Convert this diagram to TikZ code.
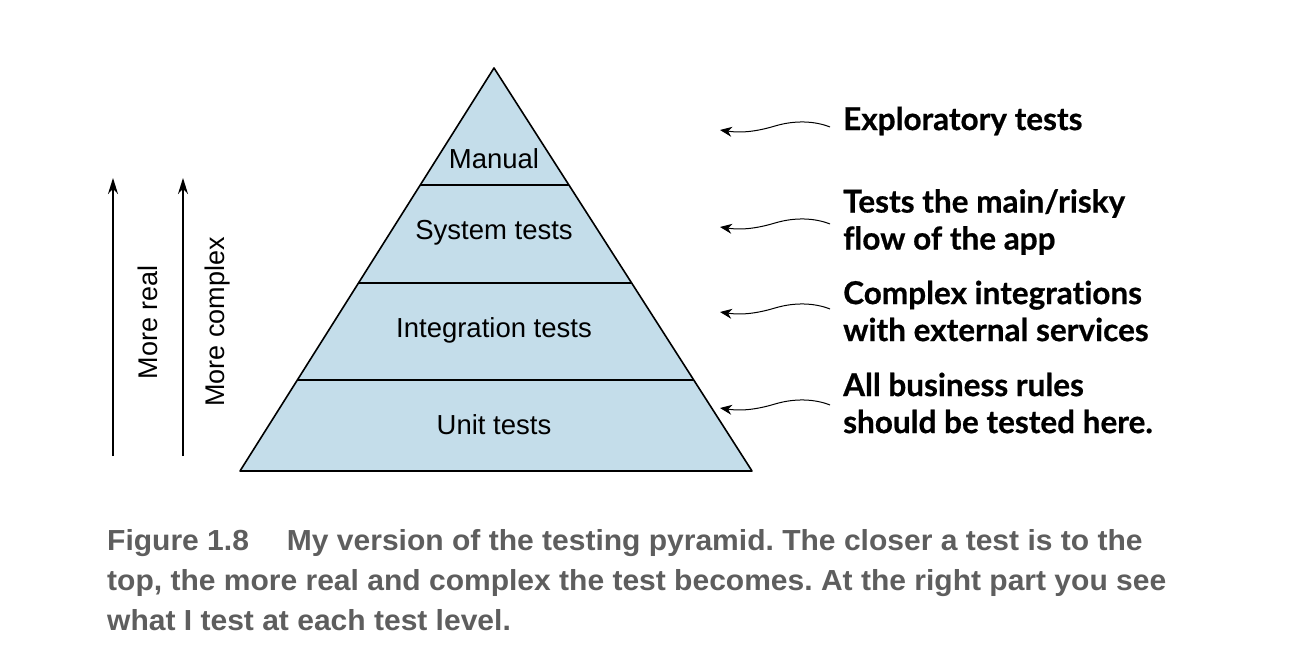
\documentclass[tikz,border=0pt]{standalone}
\usepackage{fontspec}
\setmainfont{Liberation Sans}
\newfontfamily\notefont[Ligatures=NoCommon,FakeBold=0.6]{Lato}
\newfontfamily\capfont[FakeStretch=1.035]{Liberation Sans}
\usetikzlibrary{arrows.meta,calc}
\definecolor{pyrfill}{HTML}{C4DDEA}
\definecolor{capgray}{HTML}{5E5E5E}
\frenchspacing
\tikzset{
  layer/.style={font=\fontsize{27.5}{30}\selectfont, text=black},
  note/.style={font=\notefont\bfseries\fontsize{31.5}{37}\selectfont, anchor=west, align=left, inner sep=0pt},
  wavy/.style={line width=1pt, -{Stealth[length=12pt,width=10pt]}},
  uparrow/.style={line width=1.6pt, -{Stealth[length=16pt,width=10pt]}},
  sidelabel/.style={font=\fontsize{27}{30}\selectfont, rotate=90},
  captxt/.style={font=\capfont\bfseries\fontsize{29}{34}\selectfont, text=capgray, anchor=base west, inner sep=0pt},
}
\begin{document}
\begin{tikzpicture}[x=1pt,y=-1pt]
\useasboundingbox (0,0) rectangle (1297,652);
\fill[white] (0,0) rectangle (1297,652);
% pyramid
\coordinate (apex) at (494,68);
\coordinate (bl) at (240,471);
\coordinate (br) at (752,471);
\filldraw[fill=pyrfill, draw=black, line width=1.6pt, line join=round] (apex) -- (bl) -- (br) -- cycle;
\draw[line width=1.6pt] ($(apex)!0.2903!(bl)$) -- ($(apex)!0.2903!(br)$);
\draw[line width=1.6pt] ($(apex)!0.5335!(bl)$) -- ($(apex)!0.5335!(br)$);
\draw[line width=1.6pt] ($(apex)!0.7742!(bl)$) -- ($(apex)!0.7742!(br)$);
\node[layer] (manual) at (494,159) {Manual};
\node[layer] (system) at (494,233) {System tests};
\node[layer] (integ) at (494,330) {Integration tests};
\node[layer] (unit) at (494,425) {Unit tests};
% left arrows
\coordinate (r0) at (113,456);
\coordinate (r1) at (113,178);
\coordinate (c0) at (183,456);
\coordinate (c1) at (183,178);
\draw[uparrow] (r0) -- (r1);
\draw[uparrow] (c0) -- (c1);
\node[sidelabel] (real) at (148,322) {More real};
\node[sidelabel] (complex) at (218,322) {More complex};
% right notes
\node[note] (n1) at (843,121) {Exploratory tests};
\node[note] (n2) at (843,222) {Tests the main/risky\\flow of the app};
\node[note] (n3) at (843,311) {Complex integrations\\with external services};
\node[note] (n4) at (843,403) {All business rules\\should be tested here.};
\foreach \n/\y in {n1/130,n2/227,n3/312,n4/408}{
  \coordinate (s\n) at (830,\y-3);
  \coordinate (t\n) at (720,\y);
  \draw[wavy] (s\n) .. controls (815,\y-9) and (795,\y-10) .. (775,\y-4)
     .. controls (755,\y+2) and (740,\y+3) .. (t\n);
}
% caption
\node[captxt] (cap1) at (107,550) {Figure 1.8\hspace{38pt}My version of the testing pyramid. The closer a test is to the};
\node[captxt] (cap2) at (107,590) {top, the more real and complex the test becomes. At the right part you see};
\node[captxt] (cap3) at (107,630) {what I test at each test level.};
\end{tikzpicture}
\end{document}
